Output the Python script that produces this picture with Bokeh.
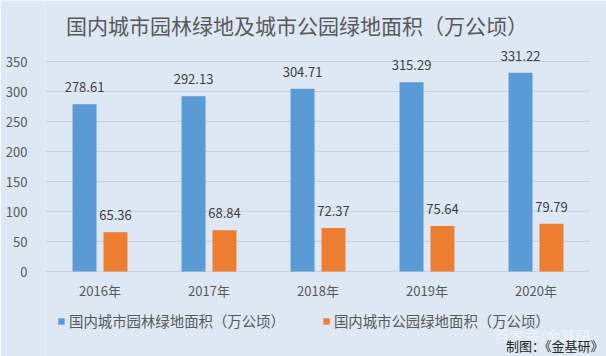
from bokeh.plotting import figure
from bokeh.models import (Range1d, FixedTicker, Label, LabelSet, ColumnDataSource,
                          Legend, LegendItem)
from bokeh.core.properties import value
from bokeh.embed import file_html
from bokeh.resources import INLINE

years = ["2016年", "2017年", "2018年", "2019年", "2020年"]
green_area = [278.61, 292.13, 304.71, 315.29, 331.22]
park_area = [65.36, 68.84, 72.37, 75.64, 79.79]
series_names = ["国内城市园林绿地面积（万公顷）", "国内城市公园绿地面积（万公顷）"]
title_text = "国内城市园林绿地及城市公园绿地面积（万公顷）"
watermark_text = "百家号/金基研"
credit_text = "制图：《金基研》"
y_ticks = [0, 50, 100, 150, 200, 250, 300, 350]

BG = "#dde8f4"
BLUE = "#5b9bd5"
ORANGE = "#ed7d31"
FONT = "Noto Sans CJK SC"
TXT = "#595959"

# geometry (pixels of the figure)
W, H = 606, 356
LEFT = 45
PX_X = 109.0       # px per category
PX_Y = 0.6         # px per unit
BASE = 271         # pixel row of y = 0
NCAT = len(years)

centers = [i + 0.5 for i in range(NCAT)]
off = 0.142
bw = 0.22

src = ColumnDataSource(dict(
    xb=[c - off for c in centers], xo=[c + off for c in centers],
    g=green_area, pk=park_area,
    gl=[f"{v:.2f}" for v in green_area], pl=[f"{v:.2f}" for v in park_area],
))

p = figure(width=W, height=H, output_backend="svg", toolbar_location=None,
           x_range=Range1d(0, (W - LEFT) / PX_X),
           y_range=Range1d(-(H - BASE) / PX_Y, BASE / PX_Y),
           min_border_left=LEFT, min_border_right=0, min_border_top=0, min_border_bottom=0)
p.background_fill_color = BG
p.border_fill_color = BG
p.outline_line_color = None

# horizontal gridlines across the category area
p.segment(x0=[0] * len(y_ticks), x1=[NCAT] * len(y_ticks), y0=y_ticks, y1=y_ticks,
          line_color="#c9d2dc", line_width=1)

rb = p.vbar(x="xb", top="g", width=bw, source=src, fill_color=BLUE, line_color=None)
ro = p.vbar(x="xo", top="pk", width=bw, source=src, fill_color=ORANGE, line_color=None)

# y axis
p.yaxis.ticker = FixedTicker(ticks=y_ticks)
p.yaxis.axis_line_color = None
p.yaxis.major_tick_line_color = None
p.yaxis.minor_tick_line_color = None
p.yaxis.major_label_standoff = 12
p.yaxis.major_label_text_font = FONT
p.yaxis.major_label_text_font_size = "13px"
p.yaxis.major_label_text_color = TXT

# x axis pinned at y = 0
p.xaxis.fixed_location = 0
p.xaxis.ticker = FixedTicker(ticks=centers)
p.xaxis.major_label_overrides = {c: y for c, y in zip(centers, years)}
p.xaxis.axis_line_color = None
p.xaxis.major_tick_line_color = None
p.xaxis.minor_tick_line_color = None
p.xaxis.major_label_standoff = 3
p.xaxis.major_label_text_font = FONT
p.xaxis.major_label_text_font_size = "13px"
p.xaxis.major_label_text_color = TXT

p.xgrid.grid_line_color = None
p.ygrid.grid_line_color = None

# data labels
for xcol, ycol, tcol in (("xb", "g", "gl"), ("xo", "pk", "pl")):
    ls = LabelSet(x=xcol, y=ycol, text=tcol, source=src, text_align="center",
                  text_baseline="middle", y_offset=17, text_font=value(FONT),
                  text_font_size=value("13px"), text_color=value("#404040"))
    p.add_layout(ls)

def xd(px):
    return (px - LEFT) / PX_X

def yd(py):
    return (BASE - py) / PX_Y

# title
p.add_layout(Label(x=xd(296.5), y=yd(24), text=title_text, text_align="center",
                   text_baseline="middle", text_font=FONT, text_font_size="21px",
                   text_color=TXT))

# legend
legend = Legend(items=[LegendItem(label=series_names[0], renderers=[rb]),
                       LegendItem(label=series_names[1], renderers=[ro])],
                orientation="horizontal", location=(12, 25),
                glyph_width=8, glyph_height=8, label_standoff=4, spacing=37,
                padding=0, margin=0, background_fill_alpha=0, border_line_color=None,
                label_text_font=FONT, label_text_font_size="14.4px",
                label_text_color=TXT)
p.add_layout(legend, "center")

# watermark and credit
p.add_layout(Label(x=xd(542), y=yd(335), text=watermark_text,
                   text_align="center", text_baseline="middle", text_font=FONT,
                   text_font_size="15px", text_color="white", text_alpha=0.6))
p.add_layout(Label(x=xd(603), y=yd(345), text=credit_text,
                   text_align="right", text_baseline="middle", text_font=FONT,
                   text_font_size="13px", text_color="#262626"))

open("out.html", "w").write(file_html(p, INLINE))
